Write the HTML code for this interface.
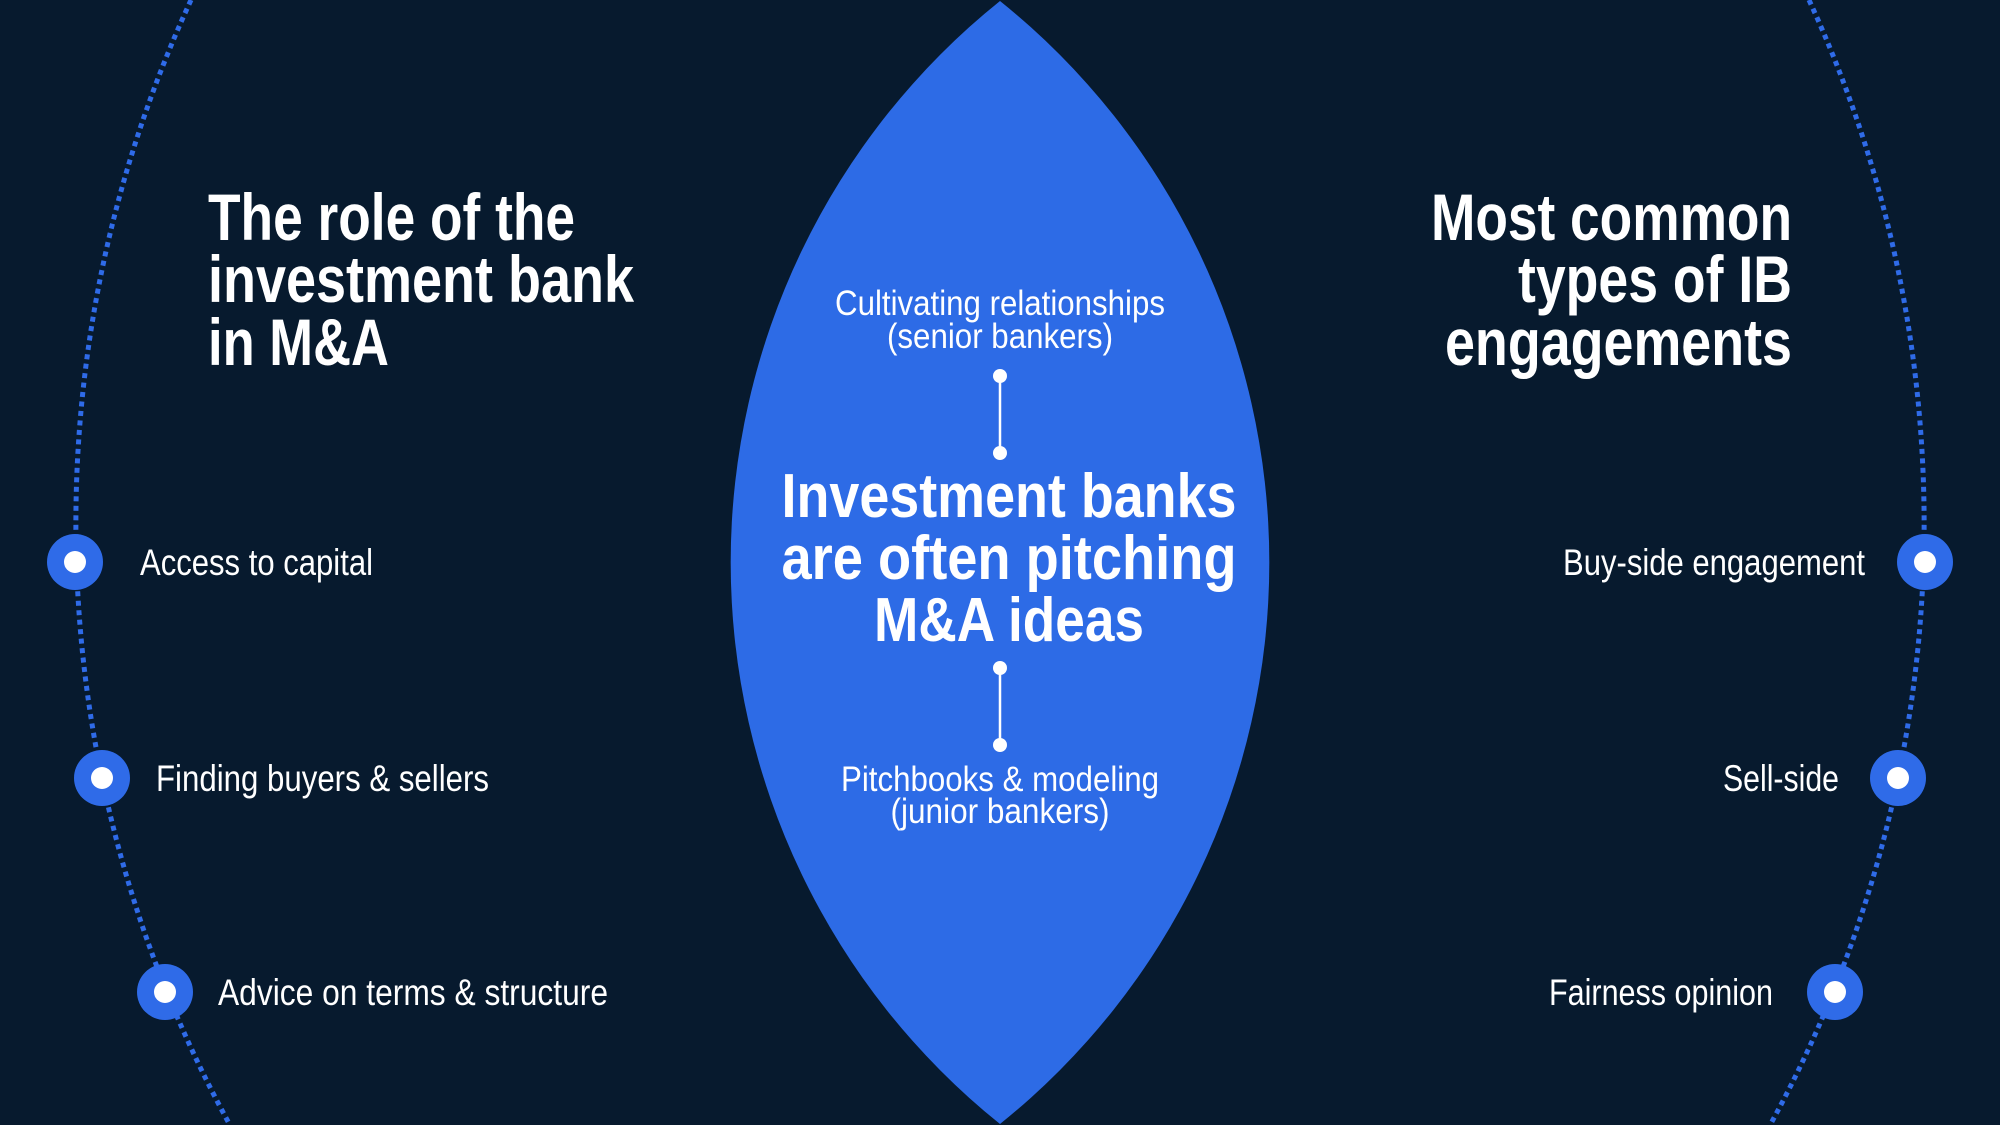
<!DOCTYPE html>
<html><head><meta charset="utf-8"><style>
html,body{margin:0;padding:0;background:#071a2e;width:2000px;height:1125px;overflow:hidden;}
svg{display:block;overflow:hidden}
.h{font-family:"Liberation Sans Narrow","Liberation Sans",sans-serif;font-weight:bold;fill:#fff;}
.l{font-family:"Liberation Sans Narrow","Liberation Sans",sans-serif;fill:#fff;}
</style></head><body>
<svg width="2000" height="1125" viewBox="0 0 2000 1125" xmlns="http://www.w3.org/2000/svg">
<rect width="2000" height="1125" fill="#071a2e"/>
<path d="M191 0 A1249.8 1249.8 0 0 0 229.9 1125" fill="none" stroke="#2f6be8" stroke-width="5" stroke-dasharray="5 4.5"/>
<path d="M1809 0 A1249.8 1249.8 0 0 1 1770.1 1125" fill="none" stroke="#2f6be8" stroke-width="5" stroke-dasharray="5 4.5"/>
<path d="M1000 1 A720 720 0 0 1 1000 1124 A720 720 0 0 1 1000 1 Z" fill="#2d6be6"/>
<g fill="#2f6be8">
<circle cx="75" cy="562" r="28"/><circle cx="102" cy="778" r="28"/><circle cx="165" cy="992" r="28"/>
<circle cx="1925" cy="562" r="28"/><circle cx="1898" cy="778" r="28"/><circle cx="1835" cy="992" r="28"/>
</g>
<g fill="#fff">
<circle cx="75" cy="562" r="11"/><circle cx="102" cy="778" r="11"/><circle cx="165" cy="992" r="11"/>
<circle cx="1925" cy="562" r="11"/><circle cx="1898" cy="778" r="11"/><circle cx="1835" cy="992" r="11"/>
<circle cx="1000" cy="376" r="7"/><circle cx="1000" cy="453" r="7"/>
<circle cx="1000" cy="668" r="7"/><circle cx="1000" cy="745" r="7"/>
</g>
<g stroke="#fff" stroke-width="2.5"><line x1="1000" y1="376" x2="1000" y2="453"/><line x1="1000" y1="668" x2="1000" y2="745"/></g>
<g class="h" font-size="66">
<text x="208" y="240" textLength="367" lengthAdjust="spacingAndGlyphs">The role of the</text>
<text x="208" y="302" textLength="426" lengthAdjust="spacingAndGlyphs">investment bank</text>
<text x="208" y="365" textLength="181" lengthAdjust="spacingAndGlyphs">in M&amp;A</text>
<text x="1792" y="240" text-anchor="end" textLength="361" lengthAdjust="spacingAndGlyphs">Most common</text>
<text x="1792" y="302" text-anchor="end" textLength="274" lengthAdjust="spacingAndGlyphs">types of IB</text>
<text x="1792" y="365" text-anchor="end" textLength="347" lengthAdjust="spacingAndGlyphs">engagements</text>
</g>
<g class="h" font-size="62" text-anchor="middle">
<text x="1009" y="517" textLength="455" lengthAdjust="spacingAndGlyphs">Investment banks</text>
<text x="1009" y="579" textLength="455" lengthAdjust="spacingAndGlyphs">are often pitching</text>
<text x="1009" y="641" textLength="270" lengthAdjust="spacingAndGlyphs">M&amp;A ideas</text>
</g>
<g class="l" font-size="35" text-anchor="middle">
<text x="1000" y="315" textLength="330" lengthAdjust="spacingAndGlyphs">Cultivating relationships</text>
<text x="1000" y="348" textLength="226" lengthAdjust="spacingAndGlyphs">(senior bankers)</text>
<text x="1000" y="791" textLength="318" lengthAdjust="spacingAndGlyphs">Pitchbooks &amp; modeling</text>
<text x="1000" y="823" textLength="219" lengthAdjust="spacingAndGlyphs">(junior bankers)</text>
</g>
<g class="l" font-size="37">
<text x="140" y="575" textLength="233" lengthAdjust="spacingAndGlyphs">Access to capital</text>
<text x="156" y="791" textLength="333" lengthAdjust="spacingAndGlyphs">Finding buyers &amp; sellers</text>
<text x="218" y="1005" textLength="390" lengthAdjust="spacingAndGlyphs">Advice on terms &amp; structure</text>
<text x="1865" y="575" text-anchor="end" textLength="302" lengthAdjust="spacingAndGlyphs">Buy-side engagement</text>
<text x="1839" y="791" text-anchor="end" textLength="116" lengthAdjust="spacingAndGlyphs">Sell-side</text>
<text x="1773" y="1005" text-anchor="end" textLength="224" lengthAdjust="spacingAndGlyphs">Fairness opinion</text>
</g>
</svg>
</body></html>
